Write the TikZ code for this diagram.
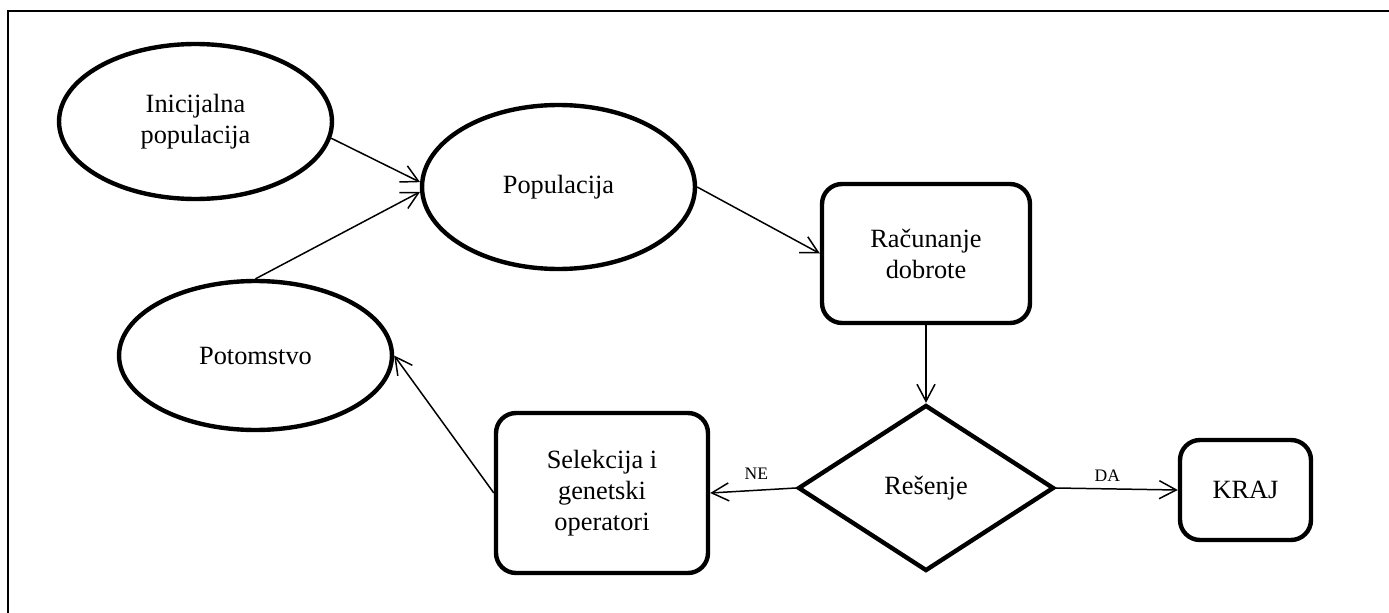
\documentclass[tikz,border=0pt]{standalone}
\usepackage{fontspec}
\setmainfont{Liberation Serif}
\usetikzlibrary{shapes.geometric, arrows.meta, positioning}

\begin{document}
\begin{tikzpicture}[
      x=0.02cm,
      y=-0.02cm,
      font=\fontsize{15}{17.6}\selectfont,
      stanje/.style={
        draw=black,
        ellipse,
        minimum width=5.46cm,
        inner sep=0pt,
        align=center,
        line width=2.5pt
      },
      korak/.style={
        draw=black,
        rounded corners=0.4cm,
        inner sep=0pt,
        align=center,
        line width=2.5pt
      },
      odluka/.style={
        draw=black,
        diamond,
        minimum width=5.12cm,
        minimum height=3.32cm,
        inner sep=0pt,
        line width=2.5pt
      },
      tok/.style={-{Straight Barb[length=0.34cm,width=0.36cm]}, draw=black, line width=0.85pt},
      oznaka/.style={font=\fontsize{10}{12}\selectfont, inner sep=1pt}
    ]

    % Frame (only the top and left edges fall inside the page)
    \clip (0,0) rectangle (1389,612);
    \draw[line width=1.2pt] (8,11) rectangle (1420,640);

    % Populations
    \node[stanje, minimum height=3.1cm] (inicijalna) at (195.5,121.5) {Inicijalna\\populacija};
    \node[stanje, minimum height=3.28cm] (populacija) at (558.5,187) {Populacija};
    \node[stanje, minimum height=2.98cm] (potomstvo) at (255.5,355.5) {Potomstvo};

    % Steps and decision
    \node[korak, minimum width=4.16cm, minimum height=2.78cm] (racunanje) at (926,253.5) {Računanje\\dobrote};
    \node[odluka] (resenje) at (926,488) {Rešenje};
    \node[korak, minimum width=4.24cm, minimum height=3.2cm] (selekcija) at (602,493) {Selekcija i\\genetski\\operatori};
    \node[korak, minimum width=2.62cm, minimum height=2.0cm] (kraj) at (1245.5,490) {KRAJ};

    % Flow
    \draw[tok] (inicijalna.-7) -- (populacija.178);
    \draw[tok] (potomstvo.north) -- (populacija.182);
    \draw[tok] (populacija.east) -- (racunanje.west);
    \draw[tok] (racunanje.south) -- (resenje.north);
    \draw[tok] (resenje.west) -- node[oznaka, above=5pt, pos=0.46] {NE} (selekcija.east);
    \draw[tok] (resenje.east) -- node[oznaka, above=3pt, pos=0.42] {DA} (kraj.west);
    \draw[tok] (selekcija.west) -- (potomstvo.east);

  \end{tikzpicture}
\end{document}
